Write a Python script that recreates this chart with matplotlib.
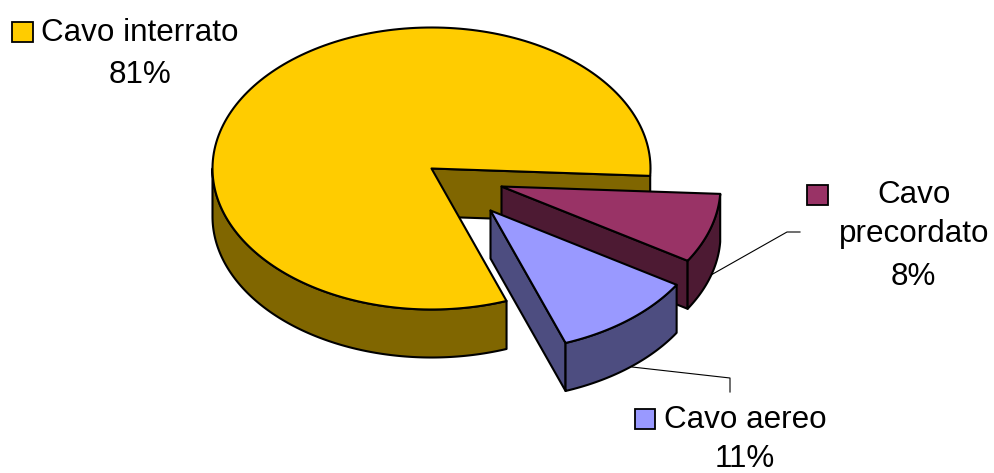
import numpy as np
import matplotlib
matplotlib.use("Agg")
import matplotlib.pyplot as plt
from matplotlib.patches import Polygon, Rectangle

plt.rcParams['font.family'] = ['Liberation Sans', 'DejaVu Sans']

categories = ["Cavo interrato", "Cavo precordato", "Cavo aereo"]
shares = [81.4, 8.0, 10.6]
colors = ["#FFCC00", "#993366", "#9999FF"]
dark_colors = ["#806600", "#4D1A33", "#4D4D80"]

# geometry of the pie, in pixels of the picture
cx, cy = 431.5, 168.5
rx, ry = 219.0, 141.0
depth = 48
start_angle = 3.0  # degrees, running clockwise on screen
explode = [(0, 0), (70, 18), (59, 42)]

fig = plt.figure(figsize=(9.95, 4.73), dpi=100)
ax = fig.add_axes([0, 0, 1, 1])
ax.set_xlim(0, 995)
ax.set_ylim(473, 0)
ax.axis("off")


def rim(x0, y0, t0, t1):
    t = np.deg2rad(np.linspace(t0, t1, 200))
    return np.column_stack([x0 + rx * np.cos(t), y0 + ry * np.sin(t)])


def add_poly(pts, color, z):
    ax.add_patch(Polygon(pts, closed=True, facecolor=color, edgecolor="black",
                         linewidth=1.5, joinstyle="round", zorder=z))


# wedge angles: the big slice goes the long way round, starting after the other two
sweeps = [s * 3.6 for s in shares]
angles = [
    (start_angle + sweeps[1] + sweeps[2], start_angle + 360),
    (start_angle, start_angle + sweeps[1]),
    (start_angle + sweeps[1], start_angle + sweeps[1] + sweeps[2]),
]

for i, (t0, t1) in enumerate(angles):
    dx, dy = explode[i]
    x0, y0 = cx + dx, cy + dy
    z = 2 + i * 3
    down = np.array([0, depth])
    apex = np.array([x0, y0])

    # cut wall that faces the viewer
    edge = rim(x0, y0, t1, t1)[0]
    add_poly([apex, edge, edge + down, apex + down], dark_colors[i], z)

    # outer wall, only the front half of the ellipse
    front = rim(x0, y0, t0, min(t1, 180))
    add_poly(np.vstack([front, front[::-1] + down]), dark_colors[i], z + 1)

    # top face
    add_poly(np.vstack([apex, rim(x0, y0, t0, t1)]), colors[i], z + 2)

# leader lines
ax.plot([711, 787, 800], [275, 232, 232], color="black", lw=0.8, zorder=1)
ax.plot([632, 730, 730], [367, 378, 392], color="black", lw=0.8, zorder=1)

# labels with their colour keys
fs = 22.6
ax.add_patch(Rectangle((12, 22), 21, 20, facecolor=colors[0], edgecolor="black", lw=1.3))
ax.text(140, 41, categories[0], fontsize=fs, ha="center", va="baseline")
ax.text(140, 83, f"{round(shares[0])}%", fontsize=fs, ha="center", va="baseline")

ax.add_patch(Rectangle((807, 185), 21, 20, facecolor=colors[1], edgecolor="black", lw=1.3))
ax.text(914, 203, "Cavo", fontsize=fs, ha="center", va="baseline")
ax.text(914, 242, "precordato", fontsize=fs, ha="center", va="baseline")
ax.text(913, 285, f"{round(shares[1])}%", fontsize=fs, ha="center", va="baseline")

ax.add_patch(Rectangle((635, 409), 20, 20, facecolor=colors[2], edgecolor="black", lw=1.3))
ax.text(745, 428, categories[2], fontsize=fs, ha="center", va="baseline")
ax.text(745, 467, f"{round(shares[2])}%", fontsize=fs, ha="center", va="baseline")

fig.savefig("out.png", dpi=100)
